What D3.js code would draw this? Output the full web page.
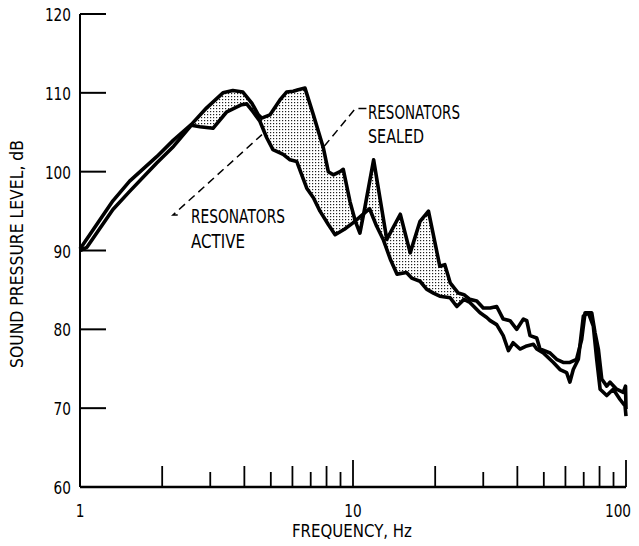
<!DOCTYPE html>
<html>
<head>
<meta charset="utf-8">
<script src="https://cdn.jsdelivr.net/npm/d3@7"></script>
<style>
  body { margin: 0; background: #fff; }
  svg { display: block; }
  text { font-family: "DejaVu Sans", sans-serif; fill: #000; }
</style>
</head>
<body>
<div id="chart"></div>
<script>
// readings: [frequency Hz, SPL dB]
const sealed = [
  [1.0, 90.2], [1.32, 96.3], [1.52, 98.8], [1.91, 101.9], [2.2, 104.0], [2.56, 106.0],
  [2.91, 108.1], [3.34, 110.0], [3.63, 110.3], [3.95, 110.1], [4.26, 108.7], [4.5, 107.2],
  [4.63, 106.8], [4.96, 107.2], [5.4, 109.1], [5.71, 110.1], [6.04, 110.2], [6.3, 110.4],
  [6.67, 110.6], [7.16, 107.2], [7.79, 103.0], [8.12, 100.0], [8.47, 99.6], [8.96, 100.0],
  [9.21, 100.3], [9.75, 96.2], [10.2, 93.7], [10.6, 92.2], [11.06, 95.5], [11.9, 101.5],
  [13.3, 91.4], [14.9, 94.6], [16.2, 89.7], [17.6, 93.7], [18.9, 95.0], [20.8, 88.0],
  [21.7, 88.2], [22.7, 85.9], [24.3, 84.6], [25.5, 84.4], [26.8, 83.8], [28.4, 83.6],
  [30.0, 82.7], [31.8, 82.7], [33.6, 82.9], [35.5, 81.3], [37.6, 81.1], [39.8, 80.0],
  [42.1, 81.3], [43.3, 81.1], [44.5, 79.2], [47.1, 78.9], [48.4, 77.5], [52.7, 77.0],
  [55.7, 76.2], [58.9, 75.8], [62.3, 75.8], [65.9, 76.2], [68.8, 78.7], [70.8, 82.1],
  [74.9, 82.1], [77.0, 79.6], [79.2, 77.5], [81.5, 73.7], [85.0, 72.8], [87.4, 73.3],
  [92.4, 72.4], [97.7, 72.0], [99.6, 72.8], [100, 69.9]
];
const active = [
  [1.0, 90.0], [1.06, 90.4], [1.32, 95.2], [1.52, 97.5], [1.91, 101.1], [2.2, 103.2],
  [2.56, 105.9], [2.75, 105.7], [3.07, 105.5], [3.45, 107.6], [3.91, 108.5], [4.08, 108.6],
  [4.3, 107.6], [4.56, 106.4], [4.83, 104.3], [5.09, 102.8], [5.55, 102.2], [5.88, 101.5],
  [6.22, 101.3], [6.49, 99.6], [6.77, 97.9], [7.16, 96.7], [7.57, 95.0], [8.12, 93.3],
  [8.6, 92.0], [9.3, 92.7], [10.0, 93.5], [10.9, 94.6], [11.5, 95.3], [12.2, 93.1],
  [12.9, 91.4], [13.7, 88.9], [14.5, 87.0], [15.7, 87.2], [16.4, 86.5], [17.6, 86.1],
  [18.6, 85.1], [19.7, 84.6], [20.8, 84.2], [22.7, 84.0], [24.0, 82.9], [25.5, 83.8],
  [26.8, 83.4], [29.2, 82.1], [30.9, 81.5], [31.8, 81.1], [33.6, 80.6], [35.5, 79.2],
  [37.1, 77.3], [38.6, 78.3], [40.9, 77.5], [43.3, 77.9], [45.8, 78.1], [47.1, 77.5],
  [49.8, 77.0], [54.2, 75.8], [57.3, 74.9], [60.6, 74.5], [62.3, 73.3], [64.1, 74.9],
  [66.9, 76.2], [69.8, 81.7], [72.8, 82.1], [75.9, 80.4], [78.1, 76.2], [80.4, 72.4],
  [85.0, 71.6], [89.8, 72.4], [95.1, 71.1], [99.2, 70.3], [100, 69.0]
];
// stippled band runs between these frequencies
const shadeFrom = 2.56, shadeTo = 26.8;

const yTicks = [60, 70, 80, 90, 100, 110, 120];
const xLabels = [1, 10, 100];
const xMinor = [2, 3, 4, 5, 6, 7, 8, 9, 10, 20, 30, 40, 50, 60, 70, 80, 90, 100];

const width = 639, height = 546;
const digitW = 8.7;

const x = d3.scaleLog().domain([1, 100]).range([80, 626]);
const y = d3.scaleLinear().domain([60, 120]).range([487, 14]);

let svg = d3.select("#chart")
  .append("svg")
    .attr("width", width)
    .attr("height", height);

svg.append("defs")
  .append("pattern")
    .attr("id", "stipple")
    .attr("patternUnits", "userSpaceOnUse")
    .attr("width", 3)
    .attr("height", 3)
  .append("rect")
    .attr("width", 1.2)
    .attr("height", 1.2)
    .attr("fill", "#222");

let line = d3.line()
  .x(d => x(d[0]))
  .y(d => y(d[1]));

// band between the curves
let bandTop = sealed.filter(d => d[0] >= shadeFrom && d[0] <= shadeTo);
let bandBottom = active.filter(d => d[0] >= shadeFrom && d[0] <= shadeTo).reverse();
svg.append("path")
  .attr("d", line(bandTop.concat(bandBottom)) + "Z")
  .attr("fill", "url(#stipple)")
  .attr("stroke", "none");

// axes
svg.append("line")
  .attr("x1", x(1)).attr("x2", x(1))
  .attr("y1", y(120)).attr("y2", y(60))
  .attr("stroke", "#000").attr("stroke-width", 2);
svg.append("line")
  .attr("x1", x(1)).attr("x2", x(100))
  .attr("y1", y(60)).attr("y2", y(60))
  .attr("stroke", "#000").attr("stroke-width", 2.5);

svg.selectAll(".ytick")
  .data(yTicks.filter(d => d > 60))
  .enter().append("line")
    .attr("x1", x(1)).attr("x2", x(1) + 26)
    .attr("y1", d => y(d)).attr("y2", d => y(d))
    .attr("stroke", "#000").attr("stroke-width", 2);

svg.selectAll(".ylab")
  .data(yTicks)
  .enter().append("text")
    .attr("x", 71)
    .attr("y", d => y(d) + 7)
    .attr("text-anchor", "end")
    .attr("textLength", d => String(d).length * digitW)
    .attr("lengthAdjust", "spacingAndGlyphs")
    .style("font-size", "18px")
    .text(d => d);

svg.selectAll(".xtick")
  .data(xMinor)
  .enter().append("line")
    .attr("x1", d => x(d)).attr("x2", d => x(d))
    .attr("y1", y(60))
    .attr("y2", d => {
      let m = d / Math.pow(10, Math.floor(Math.log10(d) + 1e-9));
      let len = m === 1 ? 27 : (m % 2 === 0 ? 21 : 15);
      return y(60) - len;
    })
    .attr("stroke", "#000").attr("stroke-width", 1.8);

svg.selectAll(".xlab")
  .data(xLabels)
  .enter().append("text")
    .attr("x", d => x(d) - (d === 100 ? 8 : 0))
    .attr("y", 517)
    .attr("text-anchor", "middle")
    .attr("textLength", d => String(d).length * digitW)
    .attr("lengthAdjust", "spacingAndGlyphs")
    .style("font-size", "18px")
    .text(d => d);

svg.append("text")
  .attr("x", 352)
  .attr("y", 537)
  .attr("text-anchor", "middle")
  .attr("textLength", 120)
  .attr("lengthAdjust", "spacingAndGlyphs")
  .style("font-size", "17px")
  .text("FREQUENCY, Hz");

svg.append("text")
  .attr("transform", "translate(23,254) rotate(-90)")
  .attr("text-anchor", "middle")
  .attr("textLength", 228)
  .attr("lengthAdjust", "spacingAndGlyphs")
  .style("font-size", "17px")
  .text("SOUND PRESSURE LEVEL, dB");

// curves
[sealed, active].forEach(s => {
  svg.append("path")
    .attr("d", line(s))
    .attr("fill", "none")
    .attr("stroke", "#000")
    .attr("stroke-width", 3.6)
    .attr("stroke-linejoin", "round");
});

// leaders and labels
let leader = d3.line().x(d => x(d[0])).y(d => y(d[1]));
svg.append("path")
  .attr("d", leader([[11.2, 108.0], [10.2, 108.0], [7.75, 103.0]]))
  .attr("fill", "none").attr("stroke", "#000").attr("stroke-width", 1.5)
  .attr("stroke-dasharray", "8,5");
svg.append("path")
  .attr("d", leader([[2.28, 94.5], [2.19, 94.5], [4.64, 104.7]]))
  .attr("fill", "none").attr("stroke", "#000").attr("stroke-width", 1.5)
  .attr("stroke-dasharray", "8,5");

[["RESONATORS", 368, 119, 92], ["SEALED", 368, 143, 56],
 ["RESONATORS", 191, 223, 94], ["ACTIVE", 191, 248, 54]]
  .forEach(t => {
    svg.append("text")
      .attr("x", t[1])
      .attr("y", t[2])
      .attr("textLength", t[3])
      .attr("lengthAdjust", "spacingAndGlyphs")
      .style("font-size", "19px")
      .text(t[0]);
  });
</script>
</body>
</html>
